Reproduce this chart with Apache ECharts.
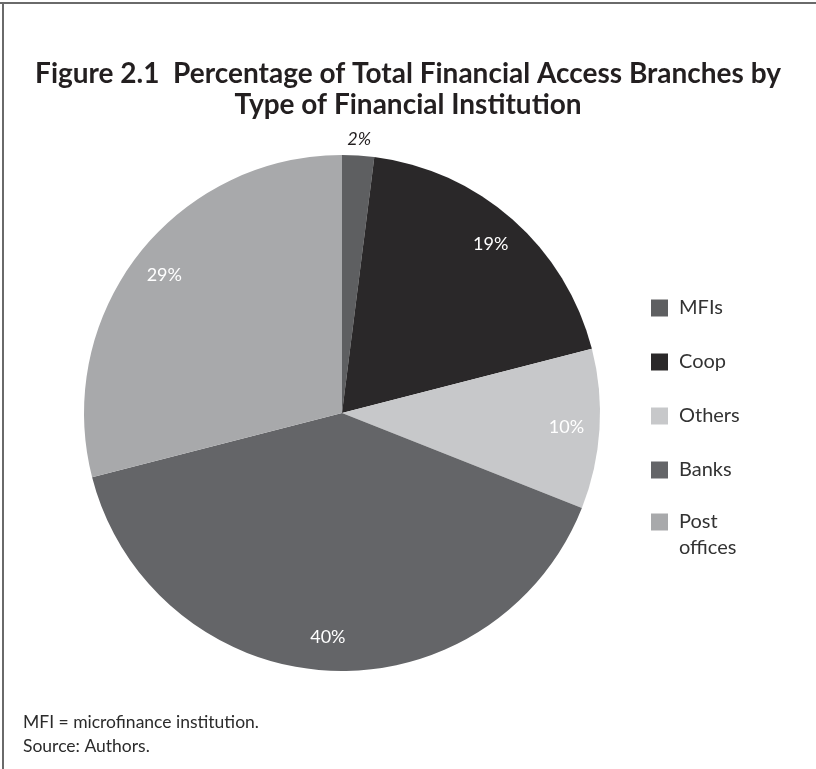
<!DOCTYPE html>
<html>
<head>
<meta charset="utf-8">
<script src="https://cdn.jsdelivr.net/npm/echarts@6/dist/echarts.min.js"></script>
<style>
  html, body { margin: 0; padding: 0; background: #fff; }
  #chart { width: 816px; height: 769px; }
</style>
</head>
<body>
<div id="chart"></div>
<script>
// Branch shares by institution type (percent of total)
const categories = ['MFIs', 'Coop', 'Others', 'Banks', 'Post offices'];
const shares = [2, 19, 10, 40, 29];
const sliceColors = ['#5e5f61', '#2a2829', '#c7c8ca', '#646568', '#a8a9ab'];

const titleText = 'Figure 2.1  Percentage of Total Financial Access Branches by\nType of Financial Institution';
const noteLines = ['MFI = microfinance institution.', 'Source: Authors.'];

const center = [342, 413];
const R = 258;

const mainData = categories.map((name, i) => ({
  name, value: shares[i], itemStyle: { color: sliceColors[i] }
}));

// Label rings: inner labels sit in a band near the rim, small slices get an outer ring
const outsideNames = ['MFIs'];
const innerRing = categories.map((name, i) => ({
  name, value: shares[i],
  label: { show: !outsideNames.includes(name) }
}));
const outerRing = categories.map((name, i) => ({
  name, value: shares[i],
  label: { show: outsideNames.includes(name) }
}));

// Single-line legend entries, and the wrapped last entry in its own block
const legendMain = categories.slice(0, 4);
const legendWrapped = categories.slice(4);

const legendText = {
  fontFamily: 'Lato',
  fontSize: 20,
  lineHeight: 26,
  color: '#333333',
  padding: [0, 0, 0, 6]
};

const chart = echarts.init(document.getElementById('chart'), null, { renderer: 'canvas' });

chart.setOption({
  animation: false,
  backgroundColor: '#ffffff',
  title: [{
    text: titleText,
    left: 408,
    top: 58,
    padding: 0,
    textAlign: 'center',
    textStyle: {
      fontFamily: 'Lato',
      fontWeight: 'bold',
      fontSize: 28,
      lineHeight: 31,
      color: '#231f20'
    }
  }, {
    text: noteLines.join('\n'),
    left: 23,
    top: 710,
    padding: 0,
    textStyle: {
      fontFamily: 'Lato',
      fontWeight: 'normal',
      fontSize: 17.5,
      lineHeight: 24,
      color: '#2b2b2b'
    }
  }],
  legend: [{
    orient: 'vertical',
    left: 651,
    top: 295,
    padding: 0,
    itemWidth: 17,
    itemHeight: 17,
    itemGap: 28,
    icon: 'rect',
    data: legendMain,
    selectedMode: false,
    textStyle: legendText
  }, {
    orient: 'vertical',
    left: 651,
    top: 483,
    padding: 0,
    itemWidth: 17,
    itemHeight: 17,
    icon: 'rect',
    data: legendWrapped,
    selectedMode: false,
    // blank first line keeps the swatch level with the first word
    formatter: name => ' \n' + name.replace(' ', '\n'),
    textStyle: legendText
  }],
  graphic: [
    { type: 'line', shape: { x1: 0, y1: 3, x2: 816, y2: 3 }, style: { stroke: '#6a6a6a', lineWidth: 2 }, silent: true },
    { type: 'line', shape: { x1: 3, y1: 2, x2: 3, y2: 769 }, style: { stroke: '#6a6a6a', lineWidth: 2 }, silent: true }
  ],
  series: [{
    type: 'pie',
    center: center,
    radius: [0, R],
    startAngle: 90,
    clockwise: true,
    data: mainData,
    label: { show: false },
    labelLine: { show: false },
    emphasis: { disabled: true },
    itemStyle: { borderWidth: 0 }
  }, {
    type: 'pie',
    center: center,
    radius: [R * 0.72, R],
    startAngle: 90,
    clockwise: true,
    silent: true,
    data: innerRing,
    itemStyle: { color: 'rgba(0,0,0,0)' },
    label: {
      position: 'inside',
      formatter: '{c}%',
      fontFamily: 'Lato',
      fontSize: 18,
      color: '#ffffff'
    },
    labelLine: { show: false },
    emphasis: { disabled: true }
  }, {
    type: 'pie',
    center: center,
    radius: [R, R * 1.1],
    startAngle: 90,
    clockwise: true,
    silent: true,
    data: outerRing,
    itemStyle: { color: 'rgba(0,0,0,0)' },
    label: {
      position: 'inside',
      formatter: '{c}%',
      fontFamily: 'Lato',
      fontStyle: 'italic',
      fontSize: 18,
      color: '#231f20'
    },
    labelLine: { show: false },
    emphasis: { disabled: true }
  }]
});
</script>
</body>
</html>
